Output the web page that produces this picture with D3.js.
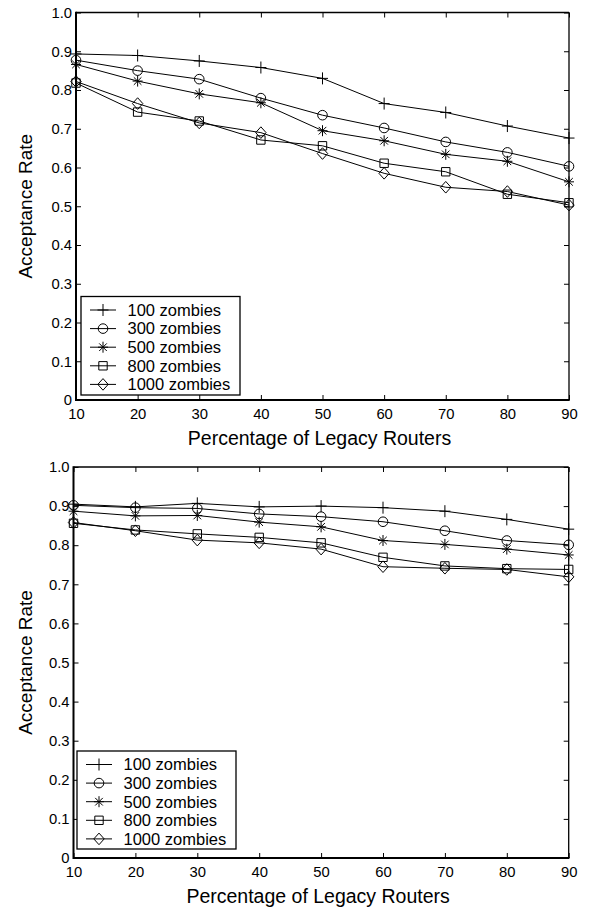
<!DOCTYPE html>
<html>
<head>
<meta charset="utf-8">
<script src="https://cdn.jsdelivr.net/npm/d3@7"></script>
<style>
  html, body { margin: 0; padding: 0; background: #fff; }
  svg { display: block; font-family: "Liberation Sans", Arial, sans-serif; }
</style>
</head>
<body>
<script>
// ---------- data ----------
const xValues = [10, 20, 30, 40, 50, 60, 70, 80, 90];
const xTickLabels = ["10", "20", "30", "40", "50", "60", "70", "80", "90"];
const yTickValues = [0, 0.1, 0.2, 0.3, 0.4, 0.5, 0.6, 0.7, 0.8, 0.9, 1.0];
const yTickLabels = ["0", "0.1", "0.2", "0.3", "0.4", "0.5", "0.6", "0.7", "0.8", "0.9", "1.0"];
const seriesNames = ["100 zombies", "300 zombies", "500 zombies", "800 zombies", "1000 zombies"];
const seriesMarkers = ["plus", "circle", "star", "square", "diamond"];

// top panel
const top100  = [0.893, 0.889, 0.875, 0.858, 0.830, 0.765, 0.742, 0.707, 0.676];
const top300  = [0.877, 0.850, 0.828, 0.779, 0.735, 0.702, 0.666, 0.639, 0.603];
const top500  = [0.866, 0.823, 0.790, 0.767, 0.695, 0.669, 0.634, 0.616, 0.563];
const top800  = [0.818, 0.743, 0.720, 0.671, 0.656, 0.611, 0.589, 0.531, 0.509];
const top1000 = [0.822, 0.765, 0.715, 0.690, 0.636, 0.585, 0.549, 0.538, 0.503];

// bottom panel
const bot100  = [0.905, 0.898, 0.907, 0.898, 0.900, 0.896, 0.887, 0.866, 0.841];
const bot300  = [0.902, 0.896, 0.894, 0.880, 0.873, 0.860, 0.837, 0.812, 0.801];
const bot500  = [0.887, 0.875, 0.876, 0.859, 0.847, 0.812, 0.802, 0.790, 0.775];
const bot800  = [0.856, 0.839, 0.829, 0.820, 0.806, 0.769, 0.747, 0.740, 0.738];
const bot1000 = [0.858, 0.837, 0.813, 0.806, 0.790, 0.745, 0.741, 0.738, 0.719];

const xTitle = "Percentage of Legacy Routers";
const yTitle = "Acceptance Rate";

// ---------- drawing ----------
const W = 589, H = 907;
const svg = d3.select("body").append("svg").attr("width", W).attr("height", H);

function markerPath(type) {
  const p = d3.path();
  if (type === "plus") {
    p.moveTo(-5.5, 0); p.lineTo(5.5, 0); p.moveTo(0, -6); p.lineTo(0, 6);
  } else if (type === "circle") {
    p.moveTo(4.8, 0); p.arc(0, 0, 4.8, 0, 2 * Math.PI);
  } else if (type === "star") {
    p.moveTo(-5, 0); p.lineTo(5, 0); p.moveTo(0, -5.5); p.lineTo(0, 5.5);
    p.moveTo(-3.8, -3.8); p.lineTo(3.8, 3.8); p.moveTo(-3.8, 3.8); p.lineTo(3.8, -3.8);
  } else if (type === "square") {
    p.rect(-4.2, -4.2, 8.4, 8.4);
  } else if (type === "diamond") {
    p.moveTo(0, -5.8); p.lineTo(5.2, 0); p.lineTo(0, 5.8); p.lineTo(-5.2, 0); p.closePath();
  }
  return p.toString();
}

function drawPanel(cfg) {
  const { left, right, top, bottom, series, legend } = cfg;
  const x = d3.scaleLinear().domain([10, 90]).range([left, right]);
  const y = d3.scaleLinear().domain([0, 1]).range([bottom, top]);
  const g = svg.append("g");

  // frame: top & right lighter, left & bottom bolder
  g.append("line").attr("x1", left).attr("x2", right).attr("y1", top).attr("y2", top)
    .attr("stroke", "#000").attr("stroke-width", 1.3);
  g.append("line").attr("x1", right).attr("x2", right).attr("y1", top).attr("y2", bottom)
    .attr("stroke", "#000").attr("stroke-width", 1.3);

  const fmtX = (d, i) => xTickLabels[i];
  const fmtY = (d, i) => yTickLabels[i];

  const axB = g.append("g").attr("transform", `translate(0,${bottom})`)
    .call(d3.axisBottom(x).tickValues(xValues).tickFormat(fmtX).tickSize(-5).tickSizeOuter(0).tickPadding(8));
  const axL = g.append("g").attr("transform", `translate(${left},0)`)
    .call(d3.axisLeft(y).tickValues(yTickValues).tickFormat(fmtY).tickSize(-5).tickSizeOuter(0).tickPadding(4));
  const axT = g.append("g").attr("transform", `translate(0,${top})`)
    .call(d3.axisTop(x).tickValues(xValues).tickFormat("").tickSize(-5).tickSizeOuter(0));
  const axR = g.append("g").attr("transform", `translate(${right},0)`)
    .call(d3.axisRight(y).tickValues(yTickValues).tickFormat("").tickSize(-5).tickSizeOuter(0));

  [axB, axL, axT, axR].forEach(a => {
    a.selectAll("text").attr("font-size", 14.8).attr("fill", "#000")
      .attr("font-family", '"Liberation Sans", Arial, sans-serif');
    a.selectAll(".tick line").attr("stroke", "#000").attr("stroke-width", 1);
    a.select(".domain").remove();
  });

  g.append("line").attr("x1", left).attr("x2", right + 0.7).attr("y1", bottom).attr("y2", bottom)
    .attr("stroke", "#000").attr("stroke-width", 2);
  g.append("line").attr("x1", left).attr("x2", left).attr("y1", top - 0.7).attr("y2", bottom + 1)
    .attr("stroke", "#000").attr("stroke-width", 2);

  // titles
  g.append("text").attr("x", (left + right) / 2 - 3).attr("y", bottom + 44.5)
    .attr("text-anchor", "middle").attr("font-size", 19.5).text(xTitle);
  g.append("text").attr("transform", `translate(31.5,${(top + bottom) / 2}) rotate(-90)`)
    .attr("text-anchor", "middle").attr("font-size", 19).text(yTitle);

  // series
  const line = d3.line().x((d, i) => x(xValues[i])).y(d => y(d));
  series.forEach((vals, si) => {
    g.append("path").attr("d", line(vals)).attr("fill", "none")
      .attr("stroke", "#000").attr("stroke-width", 1);
    g.selectAll(null).data(vals).enter().append("path")
      .attr("transform", (d, i) => `translate(${x(xValues[i])},${y(d)})`)
      .attr("d", markerPath(seriesMarkers[si]))
      .attr("fill", "none").attr("stroke", "#000").attr("stroke-width", 1);
  });

  // legend
  const lg = g.append("g");
  lg.append("rect").attr("x", legend.x).attr("y", legend.y).attr("width", legend.w).attr("height", legend.h)
    .attr("fill", "#fff").attr("stroke", "#000").attr("stroke-width", 1.3);
  seriesNames.forEach((name, i) => {
    const cy = legend.y + 13.5 + i * 18.6;
    const lx = legend.x + 9;
    lg.append("line").attr("x1", lx).attr("x2", lx + 26).attr("y1", cy).attr("y2", cy)
      .attr("stroke", "#000").attr("stroke-width", 1);
    lg.append("path").attr("transform", `translate(${lx + 13},${cy})`)
      .attr("d", markerPath(seriesMarkers[i])).attr("fill", "none").attr("stroke", "#000").attr("stroke-width", 1);
    lg.append("text").attr("x", legend.x + 46.5).attr("y", cy + 5.8)
      .attr("font-size", 16.5).text(name);
  });
}

drawPanel({
  left: 76, right: 569, top: 12.5, bottom: 400,
  series: [top100, top300, top500, top800, top1000],
  legend: { x: 81, y: 296.5, w: 159, h: 98.5 }
});

drawPanel({
  left: 73.5, right: 568.7, top: 467, bottom: 858,
  series: [bot100, bot300, bot500, bot800, bot1000],
  legend: { x: 77, y: 751, w: 159, h: 98 }
});
</script>
</body>
</html>
